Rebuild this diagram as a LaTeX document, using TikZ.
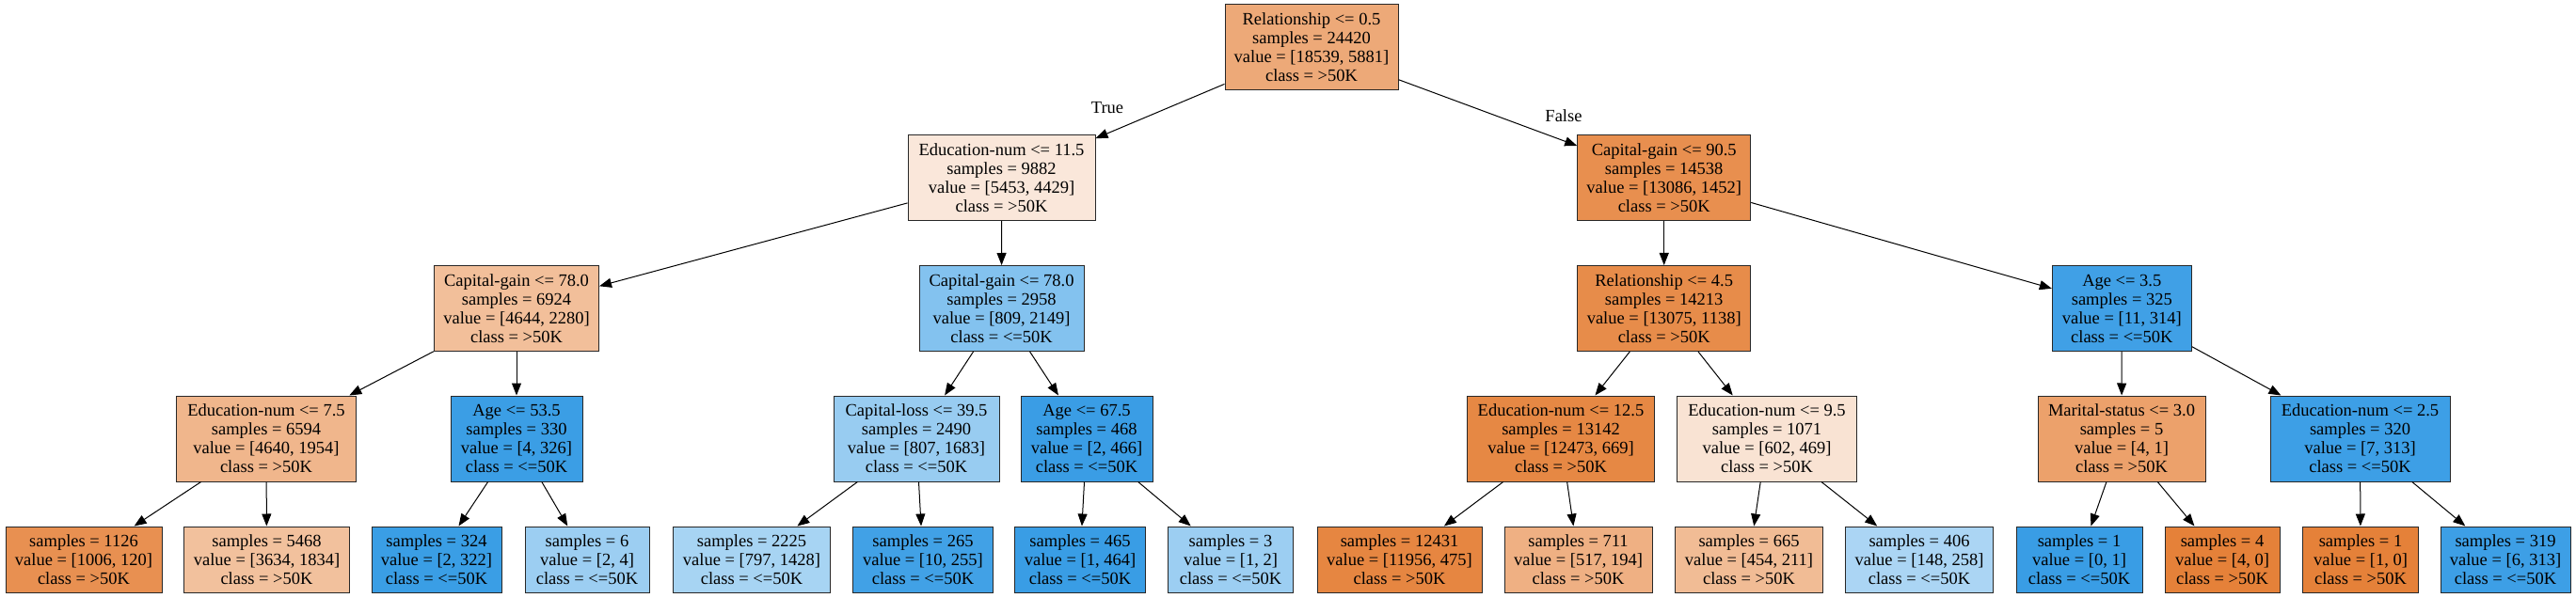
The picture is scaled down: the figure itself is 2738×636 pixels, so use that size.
\documentclass[tikz,border=0pt]{standalone}
\usepackage{fontspec}
\setmainfont{Liberation Serif}
\usetikzlibrary{arrows.meta}
\definecolor{c0}{RGB}{237,169,120}
\definecolor{c1}{RGB}{250,231,218}
\definecolor{c2}{RGB}{232,143,79}
\definecolor{c3}{RGB}{242,191,154}
\definecolor{c4}{RGB}{131,194,239}
\definecolor{c5}{RGB}{231,140,74}
\definecolor{c6}{RGB}{64,160,230}
\definecolor{c7}{RGB}{240,182,140}
\definecolor{c8}{RGB}{59,158,229}
\definecolor{c9}{RGB}{152,204,241}
\definecolor{c10}{RGB}{58,157,229}
\definecolor{c11}{RGB}{230,136,68}
\definecolor{c12}{RGB}{249,227,211}
\definecolor{c13}{RGB}{236,161,107}
\definecolor{c14}{RGB}{61,159,230}
\definecolor{d1}{RGB}{232,144,81}
\definecolor{d2}{RGB}{242,193,157}
\definecolor{d3}{RGB}{58,158,229}
\definecolor{d4}{RGB}{156,206,242}
\definecolor{d5}{RGB}{167,212,243}
\definecolor{d6}{RGB}{65,161,230}
\definecolor{d7}{RGB}{57,157,229}
\definecolor{d9}{RGB}{230,134,65}
\definecolor{d10}{RGB}{239,176,131}
\definecolor{d11}{RGB}{241,188,149}
\definecolor{d12}{RGB}{171,213,244}
\definecolor{d14}{RGB}{229,129,57}
\definecolor{d16}{RGB}{61,159,230}
\definecolor{bord}{RGB}{40,40,40}
\begin{document}
\begin{tikzpicture}[x=1pt,y=-1pt,
  every node/.style={font=\fontsize{18.5pt}{20pt}\selectfont},
  tbox/.style={draw=bord, line width=1pt, rectangle, align=center, inner xsep=1pt, inner ysep=0pt, minimum height=91pt},
  leafbox/.style={tbox, minimum height=70pt},
  edge/.style={draw=black, line width=1pt, -{Triangle[length=13pt,width=10pt]}},
  elabel/.style={inner sep=0pt}]
\useasboundingbox (0,0) rectangle (2738,636);
% level 0
\node[tbox, fill=c0, minimum width=184pt] (n0) at (1394,50.5) {Relationship <= 0.5\\samples = 24420\\value = [18539, 5881]\\class = >50K};
% level 1
\node[tbox, fill=c1, minimum width=199pt] (n1) at (1064.5,189) {Education-num <= 11.5\\samples = 9882\\value = [5453, 4429]\\class = >50K};
\node[tbox, fill=c2, minimum width=184pt] (n2) at (1768.7,189) {Capital-gain <= 90.5\\samples = 14538\\value = [13086, 1452]\\class = >50K};
% level 2
\node[tbox, fill=c3, minimum width=175pt] (n3) at (549,328) {Capital-gain <= 78.0\\samples = 6924\\value = [4644, 2280]\\class = >50K};
\node[tbox, fill=c4, minimum width=175pt] (n4) at (1064.6,328) {Capital-gain <= 78.0\\samples = 2958\\value = [809, 2149]\\class = <=50K};
\node[tbox, fill=c5, minimum width=184pt] (n5) at (1768.7,328) {Relationship <= 4.5\\samples = 14213\\value = [13075, 1138]\\class = >50K};
\node[tbox, fill=c6, minimum width=148pt] (n6) at (2255.3,328) {Age <= 3.5\\samples = 325\\value = [11, 314]\\class = <=50K};
% level 3
\node[tbox, fill=c7, minimum width=191pt] (n7) at (283,466.5) {Education-num <= 7.5\\samples = 6594\\value = [4640, 1954]\\class = >50K};
\node[tbox, fill=c8, minimum width=140pt] (n8) at (549,466.5) {Age <= 53.5\\samples = 330\\value = [4, 326]\\class = <=50K};
\node[tbox, fill=c9, minimum width=176pt] (n9) at (974,466.5) {Capital-loss <= 39.5\\samples = 2490\\value = [807, 1683]\\class = <=50K};
\node[tbox, fill=c10, minimum width=140pt] (n10) at (1155,466.5) {Age <= 67.5\\samples = 468\\value = [2, 466]\\class = <=50K};
\node[tbox, fill=c11, minimum width=199pt] (n11) at (1659,466.5) {Education-num <= 12.5\\samples = 13142\\value = [12473, 669]\\class = >50K};
\node[tbox, fill=c12, minimum width=191pt] (n12) at (1878,466.5) {Education-num <= 9.5\\samples = 1071\\value = [602, 469]\\class = >50K};
\node[tbox, fill=c13, minimum width=178pt] (n13) at (2255,466.5) {Marital-status <= 3.0\\samples = 5\\value = [4, 1]\\class = >50K};
\node[tbox, fill=c14, minimum width=191pt] (n14) at (2508.5,466.5) {Education-num <= 2.5\\samples = 320\\value = [7, 313]\\class = <=50K};
% level 4 (leaves)
\node[leafbox, fill=d1, minimum width=166pt] (l1) at (89,595) {samples = 1126\\value = [1006, 120]\\class = >50K};
\node[leafbox, fill=d2, minimum width=176pt] (l2) at (283.5,595) {samples = 5468\\value = [3634, 1834]\\class = >50K};
\node[leafbox, fill=d3, minimum width=138pt] (l3) at (464,595) {samples = 324\\value = [2, 322]\\class = <=50K};
\node[leafbox, fill=d4, minimum width=132pt] (l4) at (624,595) {samples = 6\\value = [2, 4]\\class = <=50K};
\node[leafbox, fill=d5, minimum width=167pt] (l5) at (799,595) {samples = 2225\\value = [797, 1428]\\class = <=50K};
\node[leafbox, fill=d6, minimum width=149pt] (l6) at (981,595) {samples = 265\\value = [10, 255]\\class = <=50K};
\node[leafbox, fill=d7, minimum width=139pt] (l7) at (1148,595) {samples = 465\\value = [1, 464]\\class = <=50K};
\node[leafbox, fill=d4, minimum width=133pt] (l8) at (1308,595) {samples = 3\\value = [1, 2]\\class = <=50K};
\node[leafbox, fill=d9, minimum width=175pt] (l9) at (1487.5,595) {samples = 12431\\value = [11956, 475]\\class = >50K};
\node[leafbox, fill=d10, minimum width=157pt] (l10) at (1677.5,595) {samples = 711\\value = [517, 194]\\class = >50K};
\node[leafbox, fill=d11, minimum width=157pt] (l11) at (1859,595) {samples = 665\\value = [454, 211]\\class = >50K};
\node[leafbox, fill=d12, minimum width=157pt] (l12) at (2040,595) {samples = 406\\value = [148, 258]\\class = <=50K};
\node[leafbox, fill=d7, minimum width=134pt] (l13) at (2210,595) {samples = 1\\value = [0, 1]\\class = <=50K};
\node[leafbox, fill=d14, minimum width=122pt] (l14) at (2362,595) {samples = 4\\value = [4, 0]\\class = >50K};
\node[leafbox, fill=d14, minimum width=123pt] (l15) at (2509,595) {samples = 1\\value = [1, 0]\\class = >50K};
\node[leafbox, fill=d16, minimum width=138pt] (l16) at (2663,595) {samples = 319\\value = [6, 313]\\class = <=50K};
% edge labels
\node[elabel] (tlab) at (1177,115) {True};
\node[elabel] (flab) at (1662,123) {False};
% edges
\draw[edge] (n0) -- (n1);
\draw[edge] (n0) -- (n2);
\draw[edge] (n1) -- (n3);
\draw[edge] (n1) -- (n4);
\draw[edge] (n2) -- (n5);
\draw[edge] (n2) -- (n6);
\draw[edge] (n3) -- (n7);
\draw[edge] (n3) -- (n8);
\draw[edge] (n4) -- (n9);
\draw[edge] (n4) -- (n10);
\draw[edge] (n5) -- (n11);
\draw[edge] (n5) -- (n12);
\draw[edge] (n6) -- (n13);
\draw[edge] (n6) -- (n14);
\draw[edge] (n7) -- (l1);
\draw[edge] (n7) -- (l2);
\draw[edge] (n8) -- (l3);
\draw[edge] (n8) -- (l4);
\draw[edge] (n9) -- (l5);
\draw[edge] (n9) -- (l6);
\draw[edge] (n10) -- (l7);
\draw[edge] (n10) -- (l8);
\draw[edge] (n11) -- (l9);
\draw[edge] (n11) -- (l10);
\draw[edge] (n12) -- (l11);
\draw[edge] (n12) -- (l12);
\draw[edge] (n13) -- (l13);
\draw[edge] (n13) -- (l14);
\draw[edge] (n14) -- (l15);
\draw[edge] (n14) -- (l16);
\end{tikzpicture}
\end{document}
